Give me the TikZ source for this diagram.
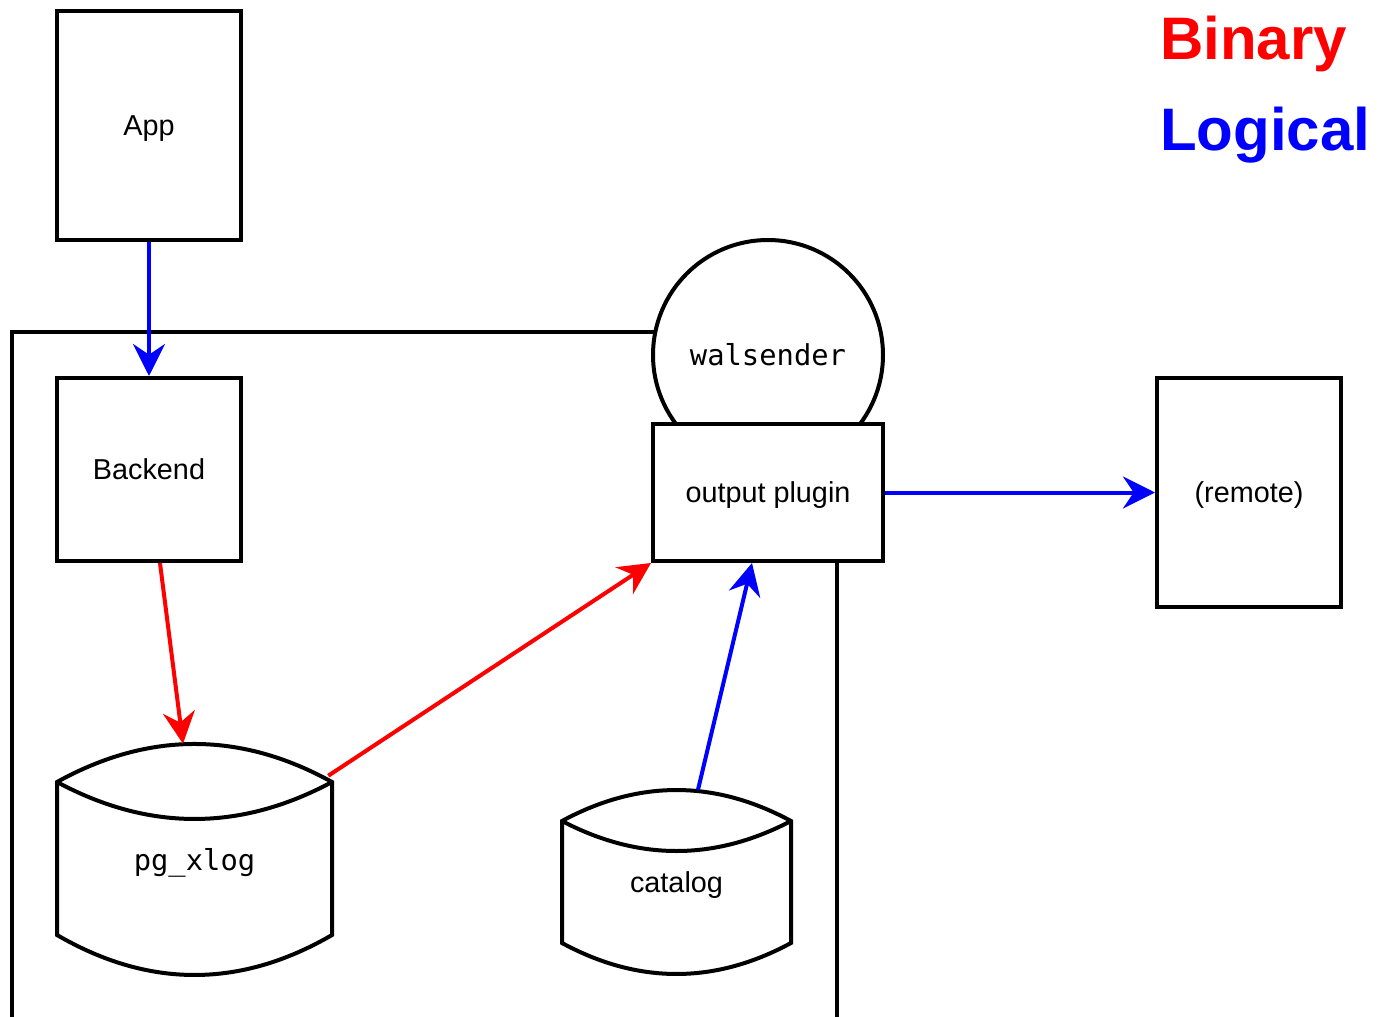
\documentclass[tikz,border=0pt]{standalone}
\usepackage{fontspec}
\setmainfont{Liberation Sans}
\setmonofont{DejaVu Sans Mono}
\usetikzlibrary{arrows.meta,calc}

\tikzset{
  outline/.style={draw=black, line width=3pt, fill=white},
  box/.style={outline, rectangle, inner sep=0pt, text depth=0pt,
    font=\fontsize{21.6}{26}\selectfont},
  label/.style={inner sep=0pt, text depth=0pt, font=\fontsize{21.6}{26}\selectfont},
  monolabel/.style={inner sep=0pt, text depth=0pt, font=\fontsize{21.6}{26}\selectfont\ttfamily},
  flow/.style={line width=3pt,
    -{Stealth[length=24pt, width=24pt, inset=8pt]}},
  logical/.style={flow, draw={rgb,255:red,0;green,0;blue,255}},
  binary/.style={flow, draw={rgb,255:red,255;green,0;blue,0}},
}

\begin{document}
\begin{tikzpicture}[x=0.75pt, y=-0.75pt, line join=miter]
  \useasboundingbox (0,0) rectangle (1379,1017);

  % server container (open towards the bottom)
  \draw[line width=3pt] (12,1017) -- (12,332) -- (837,332) -- (837,1017);

  % walsender process with its output plugin
  \node[outline, circle, minimum size=172.5pt, inner sep=0pt,
        font=\fontsize{21.6}{26}\selectfont\ttfamily] (wal) at (768,355) {walsender};
  \node[box, minimum width=172.5pt, minimum height=102.75pt] (out) at (768,492.5) {output plugin};

  % client processes
  \node[box, minimum width=138pt, minimum height=171.75pt] (app) at (149,125.5) {App};
  \node[box, minimum width=138pt, minimum height=137.25pt] (backend) at (149,469.5) {Backend};
  \node[box, minimum width=138pt, minimum height=171.75pt] (remote) at (1249,492.5) {(remote)};

  % pg_xlog storage
  \draw[outline] (57,782) .. controls (148.7,731.3) and (240.3,731.3) .. (332,782)
    -- (332,935) .. controls (240.3,988.3) and (148.7,988.3) .. (57,935) -- cycle;
  \draw[line width=3pt] (57,782) .. controls (148.7,831.3) and (240.3,831.3) .. (332,782);
  \node[monolabel, minimum width=206.25pt, minimum height=173.25pt] (pgx) at (194.5,859.5) {pg\_xlog};

  % catalog storage
  \draw[outline] (562,821) .. controls (638.3,779.7) and (714.7,779.7) .. (791,821)
    -- (791,943) .. controls (714.7,984.3) and (638.3,984.3) .. (562,943) -- cycle;
  \draw[line width=3pt] (562,821) .. controls (638.3,861) and (714.7,861) .. (791,821);
  \node[label, minimum width=171.75pt, minimum height=138pt] (cat) at (676.5,882) {catalog};

  % legend
  \node[anchor=base west, inner sep=0pt, font=\fontsize{45}{54}\selectfont\bfseries,
        text={rgb,255:red,255;green,0;blue,0}] (legbin) at (1160,60) {Binary};
  \node[anchor=base west, inner sep=0pt, font=\fontsize{45}{54}\selectfont\bfseries,
        text={rgb,255:red,0;green,0;blue,255}] (leglog) at (1160,150) {Logical};

  % data flows
  \draw[logical] (app.south) -- (backend.north);
  \draw[binary] ($(backend.south)+(11,0)$) -- ($(pgx.north)+(-11.5,0)$);
  \draw[binary] ($(pgx.north east)+(-4,32)$) -- (out.south west);
  \draw[logical] ($(cat.north)+(21.5,0)$) -- ($(out.south)+(-16,0)$);
  \draw[logical] (out.east) -- (remote.west);
\end{tikzpicture}
\end{document}
